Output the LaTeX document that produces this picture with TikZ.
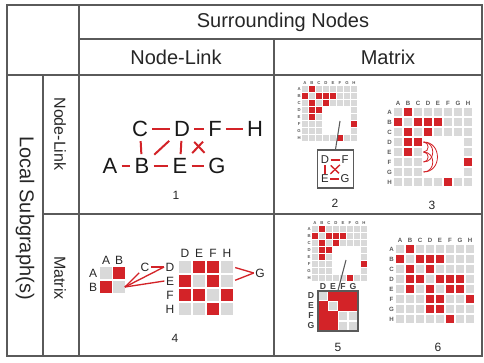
\documentclass[tikz,border=0pt]{standalone}
\usepackage{fontspec}
\setmainfont{Liberation Sans}
\definecolor{cellred}{RGB}{211,35,40}
\definecolor{cellgrey}{RGB}{217,217,217}
\definecolor{rulegrey}{RGB}{90,90,90}

% 8x8 adjacency matrix: name, x of col A, y of row A, pitch, cell size, label size
\newcommand{\adjmat}[6]{%
  \foreach \r in {1,...,8}{
    \foreach \c in {1,...,8}{
      \fill [cellgrey] ({#2+(\c-1)*#4-#5/2},{#3+(\r-1)*#4-#5/2}) rectangle +(#5,#5);
    }
  }
  \foreach \a/\b in {1/2,2/3,2/4,2/5,3/4,4/5,4/6,4/7,5/6,5/7,6/8}{
    \fill [cellred] ({#2+(\b-1)*#4-#5/2},{#3+(\a-1)*#4-#5/2}) rectangle +(#5,#5);
    \fill [cellred] ({#2+(\a-1)*#4-#5/2},{#3+(\b-1)*#4-#5/2}) rectangle +(#5,#5);
  }
  \foreach \l [count=\i] in {A,B,C,D,E,F,G,H}{
    \node [mlab,font=\fontsize{#6}{#6}\selectfont\bfseries] (#1c\l) at ({#2+(\i-1)*#4},{#3-0.85*#4}) {\l};
    \node [mlab,font=\fontsize{#6}{#6}\selectfont\bfseries] (#1r\l) at ({#2-0.85*#4},{#3+(\i-1)*#4}) {\l};
  }
}
% blank out rows/cols D..G
\newcommand{\adjhole}[4]{%
  \fill [white] ({#1+3*#3-#4/2-0.6},{#2+3*#3-#4/2-0.6}) rectangle ({#1+6*#3+#4/2+0.6},{#2+6*#3+#4/2+0.6});
}

\begin{document}
\begin{tikzpicture}[x=0.75pt,y=-0.75pt]
\begin{scope}

\tikzstyle{frame} = [draw=rulegrey,line width=1.4pt];
\tikzstyle{rule} = [draw=rulegrey,line width=0.9pt];
\tikzstyle{head} = [font=\fontsize{15}{17}\selectfont,text=black!85];
\tikzstyle{side} = [font=\fontsize{12}{14}\selectfont,text=black!85,rotate=-90];
\tikzstyle{bigL} = [font=\fontsize{16.5}{18}\selectfont,text=black!90,inner sep=2pt];
\tikzstyle{midL} = [font=\fontsize{9}{10}\selectfont,text=black!85,inner sep=1pt];
\tikzstyle{smallL} = [font=\fontsize{8.5}{9}\selectfont,text=black!85,inner sep=1pt];
\tikzstyle{zlab} = [font=\fontsize{6.5}{7}\selectfont\bfseries,text=black!75,inner sep=0.5pt];
\tikzstyle{mlab} = [text=black!65,inner sep=0pt];
\tikzstyle{num} = [font=\fontsize{9}{10}\selectfont,text=black!85];
\tikzstyle{link} = [draw=cellred,line width=1.5pt,shorten <=1pt,shorten >=1pt];
\tikzstyle{thinlink} = [draw=cellred,line width=1pt];
\tikzstyle{arcline} = [draw=cellred,line width=0.6pt];
\tikzstyle{gcell} = [fill=cellgrey,minimum size=8.5pt,inner sep=0pt];
\tikzstyle{bcell} = [fill=cellgrey,minimum size=9pt,inner sep=0pt];
\tikzstyle{zcell} = [fill=cellgrey,minimum size=6.5pt,inner sep=0pt];
\tikzstyle{zoombox} = [draw=rulegrey,line width=0.9pt,inner sep=0pt];
\tikzstyle{zoomline} = [draw=rulegrey,line width=0.8pt];

\useasboundingbox (0,0) rectangle (484,363);

\draw [frame] (7,5) rectangle (482,356);
\draw [rule] (79,5) -- (79,356);
\draw [rule] (7,75) -- (482,75);
\draw [rule] (79,39) -- (482,39);
\draw [rule] (274,39) -- (274,356);
\draw [rule] (43,75) -- (43,356);
\draw [rule] (43,214) -- (482,214);

\node [head] (surr) at (283,22) {Surrounding Nodes};
\node [head] (surrnl) at (176,57) {Node-Link};
\node [head] (surrmx) at (388,57) {Matrix};
\node [side,font=\fontsize{15}{17}\selectfont] (local) at (25,218) {Local Subgraph(s)};
\node [side] (localnl) at (60,134) {Node-Link};
\node [side] (localmx) at (60,278) {Matrix};

% node-link / node-link
\node [bigL] (C) at (140,129) {C};
\node [bigL] (D) at (182,129) {D};
\node [bigL] (F) at (215,129) {F};
\node [bigL] (H) at (255,129) {H};
\node [bigL] (A) at (110,166) {A};
\node [bigL] (B) at (142,166) {B};
\node [bigL] (E) at (180,166) {E};
\node [bigL] (G) at (217,166) {G};
\draw [link] (C) -- (D);
\draw [link] (D) -- (F);
\draw [link] (F) -- (H);
\draw [link] (A) -- (B);
\draw [link] (B) -- (E);
\draw [link] (E) -- (G);
\draw [link] (C) -- (B);
\draw [link,shorten <=2pt,shorten >=2pt] (B) -- (D);
\draw [link] (D) -- (E);
\draw [link,shorten <=2.5pt,shorten >=2.5pt] (D) -- (G);
\draw [link,shorten <=2.5pt,shorten >=2.5pt] (F) -- (E);
\node [num] (num1) at (176,195) {1};

% matrix / node-link
\adjmat{p}{305}{89}{7}{5.6}{3.2}
\adjhole{305}{89}{7}{5.6}
\coordinate (phole) at (340,121);
\node [zoombox,minimum width=27.5pt,minimum height=28.5pt] (pbox) at (335.5,169) {};
\draw [zoomline] (phole) -- (pbox.north);
\node [smallL] (pD) at (325,160) {D};
\node [smallL] (pF) at (345,160) {F};
\node [smallL] (pE) at (325,179) {E};
\node [smallL] (pG) at (345,179) {G};
\draw [thinlink] (pD) -- (pF);
\draw [thinlink] (pE) -- (pG);
\draw [thinlink] (pD) -- (pE);
\draw [thinlink] (pD) -- (pG);
\draw [thinlink] (pF) -- (pE);
\node [num] (num2) at (335,203) {2};

% matrix / matrix with arcs
\adjmat{q}{398}{112}{10}{8}{4.6}
\adjhole{398}{112}{10}{8}
\foreach \a/\b in {4/5,4/6,4/7,5/6,5/7}{
  \draw [arcline] (423.5,{112+(\a-1)*10}) .. controls ({423.5+6.2*(\b-\a)},{112+(\a-1)*10}) and ({423.5+6.2*(\b-\a)},{112+(\b-1)*10}) .. (423.5,{112+(\b-1)*10});
}
\node [num] (num3) at (432,205) {3};

% node-link / matrix
\node [midL] (ab-cA) at (106,260) {A};
\node [midL] (ab-cB) at (119,260) {B};
\node [midL] (ab-rA) at (93,273) {A};
\node [midL] (ab-rB) at (93,287) {B};
\node [gcell] (abAA) at (106,273) {};
\node [gcell,fill=cellred] (abAB) at (119,273) {};
\node [gcell,fill=cellred] (abBA) at (106,287) {};
\node [gcell] (abBB) at (119,287) {};
\node [midL] (mC) at (145,267) {C};
\node [midL] (mG) at (260,273) {G};
\foreach \rl [count=\r] in {D,E,F,H}{
  \node [midL] (mr\rl) at (170,{267+(\r-1)*14}) {\rl};
  \node [midL] (mc\rl) at ({185+(\r-1)*14},253) {\rl};
  \foreach \cl [count=\c] in {D,E,F,H}{
    \node [bcell] (m\rl\cl) at ({185+(\c-1)*14},{267+(\r-1)*14}) {};
  }
}
\foreach \p in {DE,DF,ED,EF,FD,FE,FH,HF}{
  \fill [cellred] (m\p.south west) rectangle (m\p.north east);
}
\draw [thinlink] (abBB.east) -- (mC);
\draw [thinlink] (abBB.east) -- (mrD.west);
\draw [thinlink] (abBB.east) -- (mrE.west);
\draw [thinlink] (mC.east) -- (mrD.west);
\draw [thinlink,shorten <=1.5pt] (mDH.east) -- (mG.west);
\draw [thinlink,shorten <=1.5pt] (mEH.east) -- (mG.west);
\node [num] (num4) at (175,338) {4};

% matrix / matrix with zoomed block
\adjmat{s}{315}{229}{7}{5.6}{3.2}
\adjhole{315}{229}{7}{5.6}
\coordinate (shole) at (346,260);
\foreach \rl [count=\r] in {D,E,F,G}{
  \node [zlab] (sr\rl) at (311,{296+(\r-1)*10}) {\rl};
  \node [zlab] (sc\rl) at ({323+(\r-1)*10},286.5) {\rl};
  \foreach \cl [count=\c] in {D,E,F,G}{
    \node [zcell] (z\rl\cl) at ({323+(\c-1)*10},{296+(\r-1)*10}) {};
  }
}
\foreach \p in {DE,DF,DG,ED,EF,EG,FD,FE,GD,GE}{
  \fill [cellred] (z\p.south west) rectangle (z\p.north east);
}
\node [zoombox,minimum width=30pt,minimum height=30pt] (sbox) at (338,311) {};
\draw [zoomline] (shole) -- (sbox.north);
\node [num] (num5) at (338,347) {5};

% full matrix
\adjmat{t}{400}{249}{10}{8}{4.6}
\node [num] (num6) at (438,347) {6};

\end{scope}
\end{tikzpicture}
\end{document}
